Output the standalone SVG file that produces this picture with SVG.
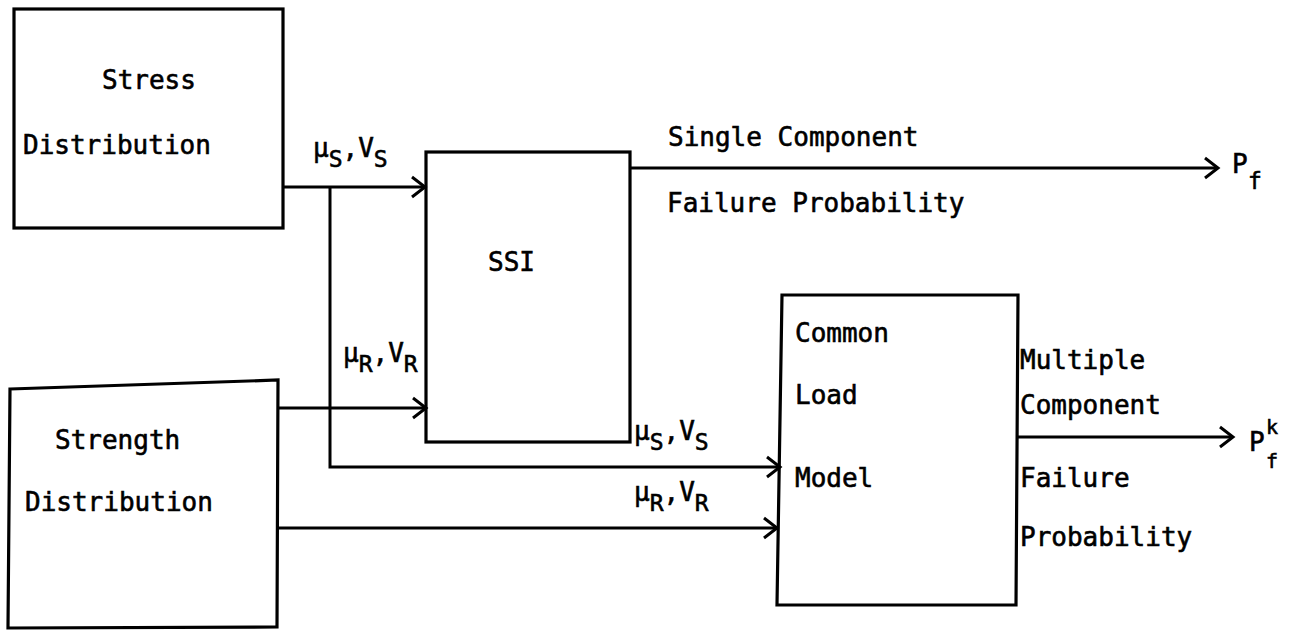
<svg xmlns="http://www.w3.org/2000/svg" width="1297" height="632" viewBox="0 0 1297 632">
<style>
.box{fill:none;stroke:#000;stroke-width:3.2;stroke-linejoin:miter}
.ln{fill:none;stroke:#000;stroke-width:3}
text{font-family:"DejaVu Sans Mono","Liberation Mono",monospace;font-size:26px;fill:#000;stroke:#000;stroke-width:0.6}
.sub{font-size:23px}
.ss{font-size:20px}
</style>
<defs>
<marker id="ah" markerUnits="userSpaceOnUse" markerWidth="24" markerHeight="24" viewBox="-20 -12 24 24" refX="0" refY="0" orient="auto">
<path d="M-13,-10 L0,0 L-13,10" fill="none" stroke="#000" stroke-width="3"/>
</marker>
</defs>
<rect width="1297" height="632" fill="#fff"/>
<g id="stress">
<rect class="box" x="14" y="9" width="269" height="219"/>
<text x="102" y="89">Stress</text>
<text x="23" y="154">Distribution</text>
</g>
<g id="strength">
<polygon class="box" points="10,389 278,380 277,627 8,628"/>
<text x="55" y="449">Strength</text>
<text x="25" y="511">Distribution</text>
</g>
<g id="ssi">
<rect class="box" x="426" y="152" width="204" height="290"/>
<text x="488" y="271">SSI</text>
</g>
<g id="clm">
<polygon class="box" points="782,295 1018,295 1016,605 777,605"/>
<text x="795" y="342">Common</text>
<text x="795" y="404">Load</text>
<text x="795" y="487">Model</text>
</g>
<g id="connectors">
<path class="ln" d="M283,187 H425" marker-end="url(#ah)"/>
<path class="ln" d="M330,187 V467 H780" marker-end="url(#ah)"/>
<path class="ln" d="M278,408 H426" marker-end="url(#ah)"/>
<path class="ln" d="M278,528 H777" marker-end="url(#ah)"/>
<path class="ln" d="M630,168 H1218" marker-end="url(#ah)"/>
<path class="ln" d="M1018,437 H1233" marker-end="url(#ah)"/>
</g>
<g id="labels">
<text x="313" y="157">μ<tspan class="sub" dy="10">S</tspan><tspan dy="-10">,V</tspan><tspan class="sub" dy="10">S</tspan></text>
<text x="343" y="362">μ<tspan class="sub" dy="10">R</tspan><tspan dy="-10">,V</tspan><tspan class="sub" dy="10">R</tspan></text>
<text x="634" y="440">μ<tspan class="sub" dy="10">S</tspan><tspan dy="-10">,V</tspan><tspan class="sub" dy="10">S</tspan></text>
<text x="634" y="501">μ<tspan class="sub" dy="10">R</tspan><tspan dy="-10">,V</tspan><tspan class="sub" dy="10">R</tspan></text>
<text x="668" y="146">Single Component</text>
<text x="667" y="212">Failure Probability</text>
<text x="1020" y="369">Multiple</text>
<text x="1020" y="414">Component</text>
<text x="1020" y="487">Failure</text>
<text x="1020" y="546">Probability</text>
<text x="1232" y="173">P<tspan class="sub" x="1248" y="189">f</tspan></text>
<text x="1249" y="451">P<tspan class="ss" x="1266" y="434">k</tspan><tspan class="ss" x="1266" y="468">f</tspan></text>
</g>
</svg>
